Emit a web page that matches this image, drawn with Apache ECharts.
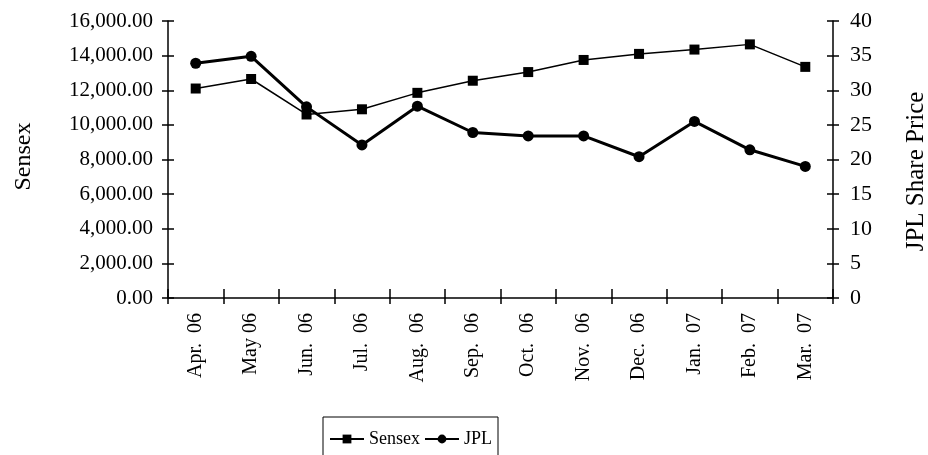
<!DOCTYPE html>
<html>
<head>
<meta charset="utf-8">
<script src="https://cdn.jsdelivr.net/npm/echarts@6/dist/echarts.min.js"></script>
<style>
  html, body { margin: 0; padding: 0; background: #fff; }
  #chart { width: 928px; height: 455px; }
</style>
</head>
<body>
<div id="chart"></div>
<script>
var months = ["Apr. 06", "May 06", "Jun. 06", "Jul. 06", "Aug. 06", "Sep. 06",
  "Oct. 06", "Nov. 06", "Dec. 06", "Jan. 07", "Feb. 07", "Mar. 07"];
var sensex = [12100, 12650, 10600, 10900, 11850, 12550, 13050, 13750, 14100, 14350, 14650, 13350];
var jpl = [33.9, 34.9, 27.6, 22.1, 27.7, 23.9, 23.4, 23.4, 20.4, 25.5, 21.4, 19.0];

var font = "Liberation Serif";
var black = "#000";

function money(v) {
  return v.toLocaleString("en-US", { minimumFractionDigits: 2, maximumFractionDigits: 2 });
}

// axes that only draw the inner half of the crossing ticks
function innerY(pos, max, step) {
  return {
    type: "value", position: pos, min: 0, max: max, interval: step,
    axisLine: { show: false }, splitLine: { show: false }, axisLabel: { show: false },
    axisTick: { show: true, inside: true, length: 6, lineStyle: { color: black, width: 1.5 } }
  };
}

var chart = echarts.init(document.getElementById("chart"));
var option = {
  backgroundColor: "#fff",
  animation: false,
  grid: { left: 168, right: 95, top: 21, bottom: 157, outerBoundsMode: "none", containLabel: false },
  legend: {
    left: 323, top: 417,
    padding: [13, 6, 13, 6],
    itemGap: 4, itemWidth: 34, itemHeight: 11,
    borderColor: black, borderWidth: 1,
    textStyle: { fontFamily: font, fontSize: 18, color: black },
    data: ["Sensex", "JPL"]
  },
  xAxis: [
    {
      type: "category", data: months, boundaryGap: true,
      axisLine: { lineStyle: { color: black, width: 1.5 } },
      axisTick: { show: true, length: 6, interval: 0, lineStyle: { color: black, width: 1.5 } },
      axisLabel: {
        interval: 0, rotate: 90, margin: 15, color: black,
        fontFamily: font, fontSize: 20,
        formatter: function (v) { return v.replace(". ", ".  "); }
      }
    },
    {
      type: "category", data: months, boundaryGap: true, position: "bottom",
      axisLine: { show: false }, axisLabel: { show: false },
      axisTick: { show: true, inside: true, length: 9, interval: 0, lineStyle: { color: black, width: 1.5 } }
    }
  ],
  yAxis: [
    {
      type: "value", position: "left", min: 0, max: 16000, interval: 2000,
      name: "Sensex", nameLocation: "middle", nameGap: 132,
      nameTextStyle: { fontFamily: font, fontSize: 24, color: black, padding: [0, 0, 0, 6] },
      axisLine: { show: true, lineStyle: { color: black, width: 1.5 } },
      axisTick: { show: true, length: 6, lineStyle: { color: black, width: 1.5 } },
      splitLine: { show: false },
      axisLabel: { margin: 15, color: black, fontFamily: font, fontSize: 21, formatter: money }
    },
    {
      type: "value", position: "right", min: 0, max: 40, interval: 5,
      name: "JPL Share Price", nameLocation: "middle", nameGap: 71,
      nameTextStyle: { fontFamily: font, fontSize: 25, color: black, padding: [0, 24, 0, 0] },
      axisLine: { show: true, lineStyle: { color: black, width: 1.5 } },
      axisTick: { show: true, length: 6, lineStyle: { color: black, width: 1.5 } },
      splitLine: { show: false },
      axisLabel: { margin: 17, color: black, fontFamily: font, fontSize: 22 }
    },
    innerY("left", 16000, 2000),
    innerY("right", 40, 5)
  ],
  series: [
    {
      name: "Sensex", type: "line", data: sensex, yAxisIndex: 0,
      symbol: "rect", symbolSize: 10,
      lineStyle: { color: black, width: 1.5 },
      itemStyle: { color: black }
    },
    {
      name: "JPL", type: "line", data: jpl, yAxisIndex: 1,
      symbol: "circle", symbolSize: 11,
      lineStyle: { color: black, width: 3 },
      itemStyle: { color: black }
    }
  ]
};
chart.setOption(option);
</script>
</body>
</html>
